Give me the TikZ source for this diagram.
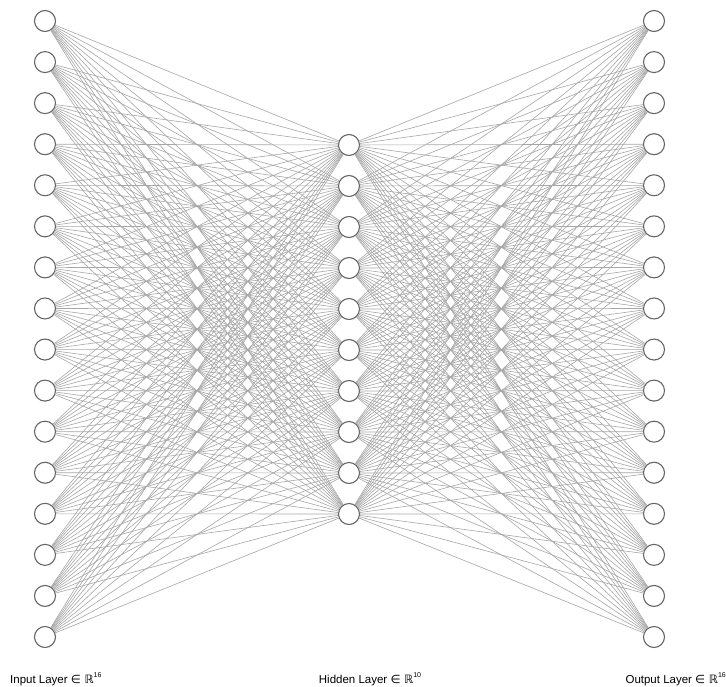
\documentclass[tikz,border=0pt]{standalone}
\usepackage{fontspec}
\setmainfont{Liberation Sans}
\newfontfamily\symfont{DejaVu Sans}
\newcommand{\supnum}[1]{\raisebox{0.45em}{\fontsize{7}{8}\selectfont #1}}
\tikzset{
  neuron/.style={circle,draw=black!60,line width=1.1pt,fill=white,minimum size=21pt,inner sep=0pt},
  edge/.style={draw=black!35,line width=0.6pt},
  lbl/.style={font=\fontsize{11.5}{13}\selectfont,inner sep=0pt}
}
\begin{document}
\begin{tikzpicture}[x=1pt,y=-1pt]
\useasboundingbox (0,0) rectangle (726,686);
\foreach \i in {1,...,16} {
  \node[neuron] (i\i) at (45,{21+41.067*(\i-1)}) {};
  \node[neuron] (o\i) at (654,{21+41.067*(\i-1)}) {};
}
\foreach \j in {1,...,10} {
  \node[neuron] (h\j) at (349,{145+41*(\j-1)}) {};
}
\foreach \i in {1,...,16} {
  \foreach \j in {1,...,10} {
    \draw[edge] (i\i) -- (h\j);
    \draw[edge] (h\j) -- (o\i);
  }
}
\node[lbl,anchor=base west] (li) at (10,683) {Input Layer {\symfont ∈ ℝ}\supnum{16}};
\node[lbl,anchor=base] (lh) at (370,683) {Hidden Layer {\symfont ∈ ℝ}\supnum{10}};
\node[lbl,anchor=base east] (lo) at (726,683) {Output Layer {\symfont ∈ ℝ}\supnum{16}};
\end{tikzpicture}
\end{document}
